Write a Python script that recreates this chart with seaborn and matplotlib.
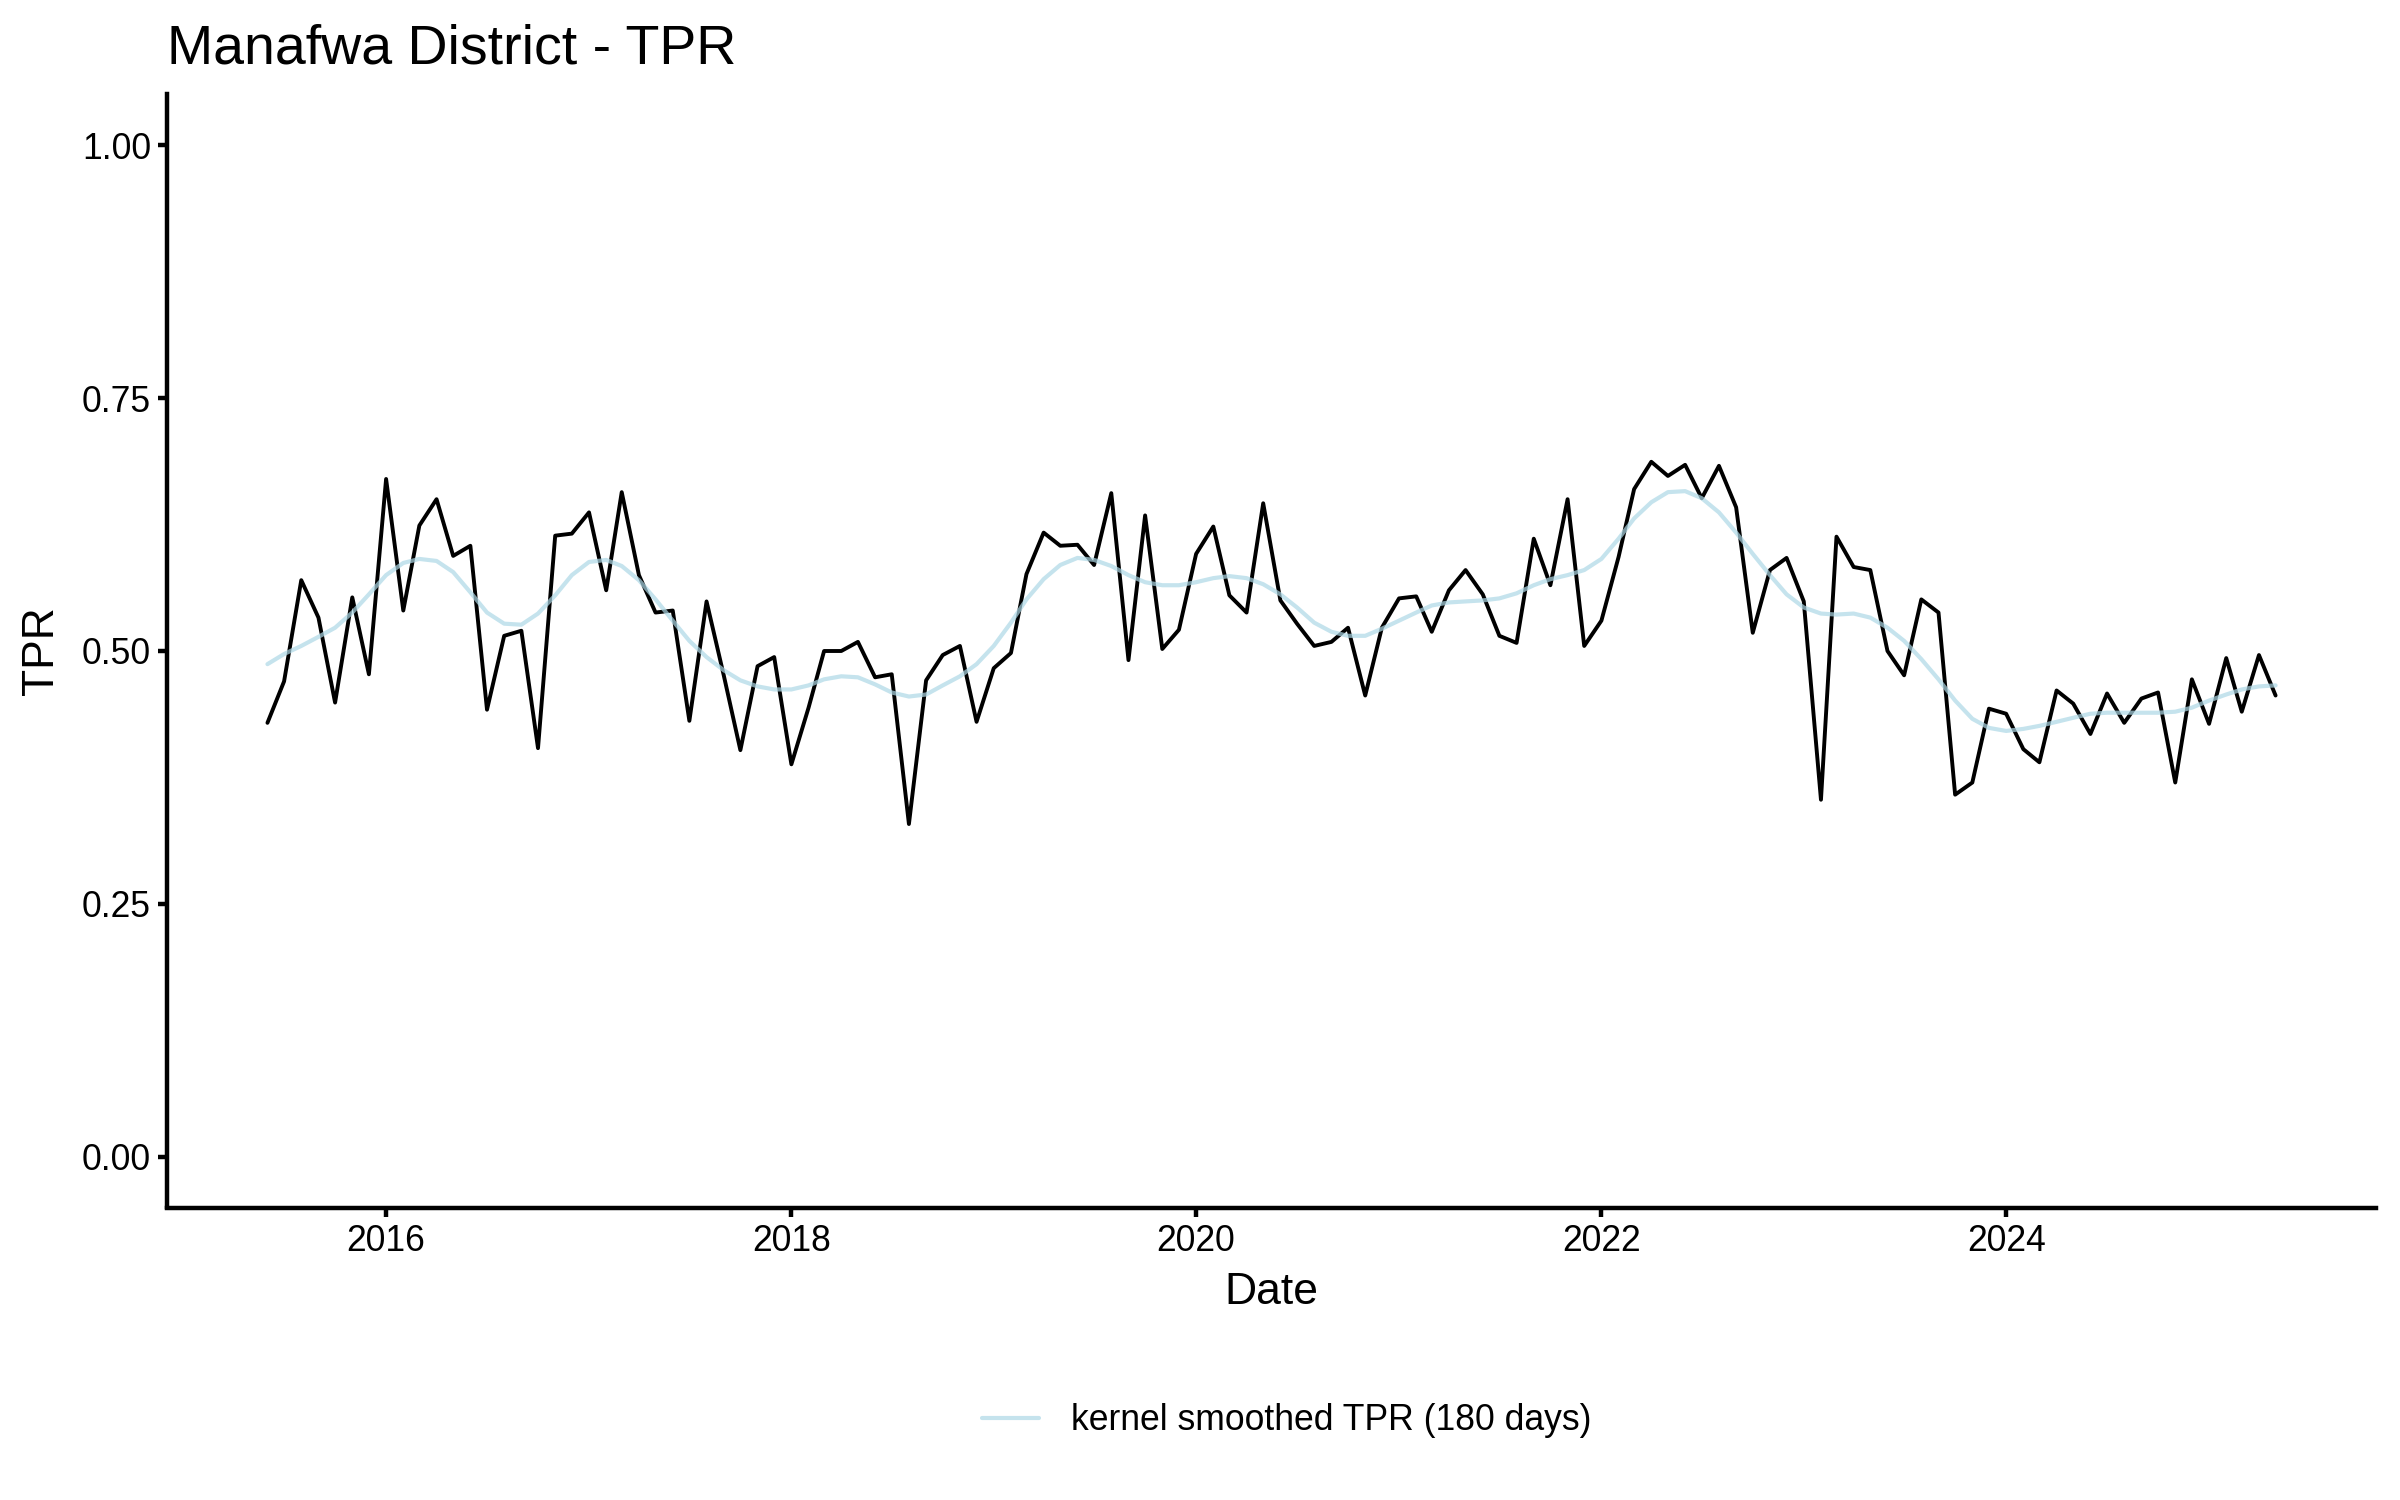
import pandas as pd
import numpy as np
import matplotlib
matplotlib.use("Agg")
import matplotlib.pyplot as plt
import matplotlib.dates as mdates
import seaborn as sns

# monthly TPR values, June 2015 to May 2025
start_month = "2015-06-01"
tpr = [
    0.429, 0.470, 0.570, 0.533, 0.449, 0.553, 0.477,
    0.670, 0.540, 0.624, 0.650, 0.594, 0.604, 0.442, 0.515, 0.520, 0.404, 0.614, 0.616,
    0.637, 0.560, 0.657, 0.575, 0.538, 0.540, 0.431, 0.549, 0.476, 0.402, 0.485, 0.494,
    0.388, 0.444, 0.500, 0.500, 0.509, 0.474, 0.477, 0.329, 0.471, 0.496, 0.505, 0.430,
    0.483, 0.498, 0.576, 0.617, 0.604, 0.605, 0.585, 0.656, 0.491, 0.634, 0.502, 0.521,
    0.596, 0.623, 0.555, 0.538, 0.646, 0.550, 0.527, 0.505, 0.509, 0.523, 0.456, 0.523,
    0.552, 0.554, 0.519, 0.560, 0.580, 0.556, 0.515, 0.508, 0.611, 0.565, 0.650, 0.505,
    0.530, 0.593, 0.660, 0.687, 0.673, 0.684, 0.651, 0.683, 0.642, 0.518, 0.580, 0.592,
    0.549, 0.353, 0.613, 0.583, 0.580, 0.500, 0.476, 0.551, 0.538, 0.358, 0.370, 0.443,
    0.438, 0.403, 0.390, 0.461, 0.448, 0.418, 0.458, 0.429, 0.453, 0.459, 0.370, 0.472,
    0.428, 0.493, 0.440, 0.496, 0.456,
]

# kernel smoothed TPR (180 days), read at the same months
tpr_smooth = [
    0.487, 0.497, 0.505, 0.514, 0.523, 0.538, 0.556,
    0.575, 0.587, 0.591, 0.589, 0.578, 0.558, 0.538, 0.527, 0.526, 0.537, 0.555, 0.575,
    0.588, 0.590, 0.584, 0.570, 0.551, 0.530, 0.510, 0.494, 0.481, 0.471, 0.465, 0.462,
    0.462, 0.466, 0.472, 0.475, 0.474, 0.467, 0.459, 0.455, 0.457, 0.466, 0.475, 0.487,
    0.505, 0.528, 0.551, 0.571, 0.585, 0.592, 0.590, 0.584, 0.575, 0.568, 0.565, 0.565,
    0.568, 0.572, 0.574, 0.572, 0.566, 0.556, 0.543, 0.528, 0.519, 0.515, 0.515, 0.522,
    0.530, 0.538, 0.545, 0.548, 0.549, 0.550, 0.552, 0.557, 0.565, 0.571, 0.575, 0.580,
    0.591, 0.611, 0.631, 0.647, 0.657, 0.658, 0.651, 0.637, 0.617, 0.596, 0.575, 0.556,
    0.543, 0.537, 0.536, 0.537, 0.533, 0.523, 0.510, 0.492, 0.472, 0.451, 0.433, 0.424,
    0.421, 0.423, 0.426, 0.430, 0.434, 0.438, 0.439, 0.439, 0.439, 0.439, 0.440, 0.444,
    0.451, 0.457, 0.462, 0.465, 0.466,
]

dates = pd.date_range(start_month, periods=len(tpr), freq="MS")
df = pd.DataFrame({"Date": dates, "TPR": tpr, "smooth": tpr_smooth})

sns.set_theme(style="ticks")
plt.rcParams["font.family"] = ["Liberation Sans", "DejaVu Sans"]

fig, ax = plt.subplots(figsize=(12, 7.5), dpi=200)
fig.subplots_adjust(left=0.0696, right=0.99, top=0.937, bottom=0.195)

# raw series in black, smoothed curve in light blue
sns.lineplot(data=df, x="Date", y="TPR", color="black", linewidth=1.4, ax=ax)
sns.lineplot(data=df, x="Date", y="smooth", color="lightblue", alpha=0.7,
             linewidth=1.5, ax=ax, label="kernel smoothed TPR (180 days)")

# ggplot-like 5% padding around the data
span = dates[-1] - dates[0]
ax.set_xlim(dates[0] - span * 0.05, dates[-1] + span * 0.05)
ax.set_ylim(-0.05, 1.05)
ax.set_yticks([0.0, 0.25, 0.5, 0.75, 1.0])
ax.set_yticklabels(["0.00", "0.25", "0.50", "0.75", "1.00"])
ax.xaxis.set_major_locator(mdates.YearLocator(2))
ax.xaxis.set_major_formatter(mdates.DateFormatter("%Y"))

for side in ["top", "right"]:
    ax.spines[side].set_visible(False)
for side in ["left", "bottom"]:
    ax.spines[side].set_color("black")
    ax.spines[side].set_linewidth(1.6)
ax.tick_params(axis="both", colors="black", width=1.6, length=3.3,
               labelsize=12.8, labelcolor="black", pad=2.5)

ax.set_xlabel("Date", fontsize=16, color="black", labelpad=5)
ax.set_ylabel("TPR", fontsize=16, color="black", labelpad=7)
ax.set_title("Manafwa District - TPR", fontsize=20, loc="left", color="black", pad=11)

# legend centred under the panel, like ggplot's bottom legend
handles, labels = ax.get_legend_handles_labels()
ax.get_legend().remove()
fig.legend(handles, labels, loc="center", bbox_to_anchor=(0.536, 0.053), frameon=False,
           fontsize=12.8, handlelength=1.6, handletextpad=0.9, labelcolor="black")

fig.savefig("out.png", dpi=200, facecolor="white")
plt.close(fig)
